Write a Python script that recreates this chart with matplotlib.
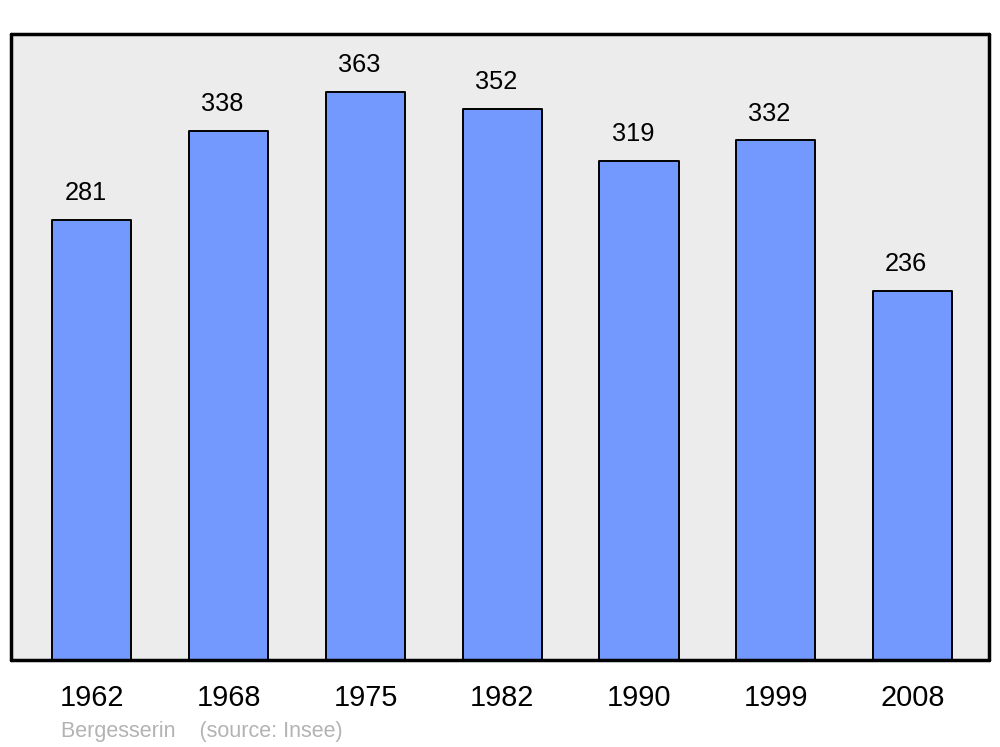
import matplotlib
matplotlib.use('Agg')
import matplotlib.pyplot as plt

plt.rcParams['font.family'] = ['Liberation Sans', 'DejaVu Sans']

years = ['1962', '1968', '1975', '1982', '1990', '1999', '2008']
population = [281, 338, 363, 352, 319, 332, 236]

fig = plt.figure(figsize=(10, 7.47), dpi=100)
ax = fig.add_axes([0.011, 0.1165, 0.978, 0.838])
ax.set_facecolor('#ececec')

xs = range(len(years))
bars = ax.bar(xs, population, width=0.578, color='#7399ff',
              edgecolor='black', linewidth=1.4, zorder=2)
for b in bars:
    b.set_joinstyle('round')

for x, v in zip(xs, population):
    ax.annotate(str(v), (x, v), xytext=(-4.5, 14.2), textcoords='offset points',
                ha='center', va='baseline', fontsize=18.3)

ax.set_xlim(-0.592, 6.559)
ax.set_ylim(0, 400)
ax.set_yticks([])
ax.set_xticks(list(xs))
ax.set_xticklabels(years, fontsize=20.8)
for lbl in ax.get_xticklabels():
    lbl.set_x(lbl.get_position()[0])
ax.tick_params(axis='x', length=0, pad=17.5)

for s in ax.spines.values():
    s.set_linewidth(2.5)
    s.set_joinstyle('round')
    s.set_capstyle('round')

fig.text(0.061, 0.0134, 'Bergesserin    (source: Insee)', color='#b3b3b3',
         fontsize=15.5, ha='left', va='baseline')

fig.savefig('out.png', dpi=100)
